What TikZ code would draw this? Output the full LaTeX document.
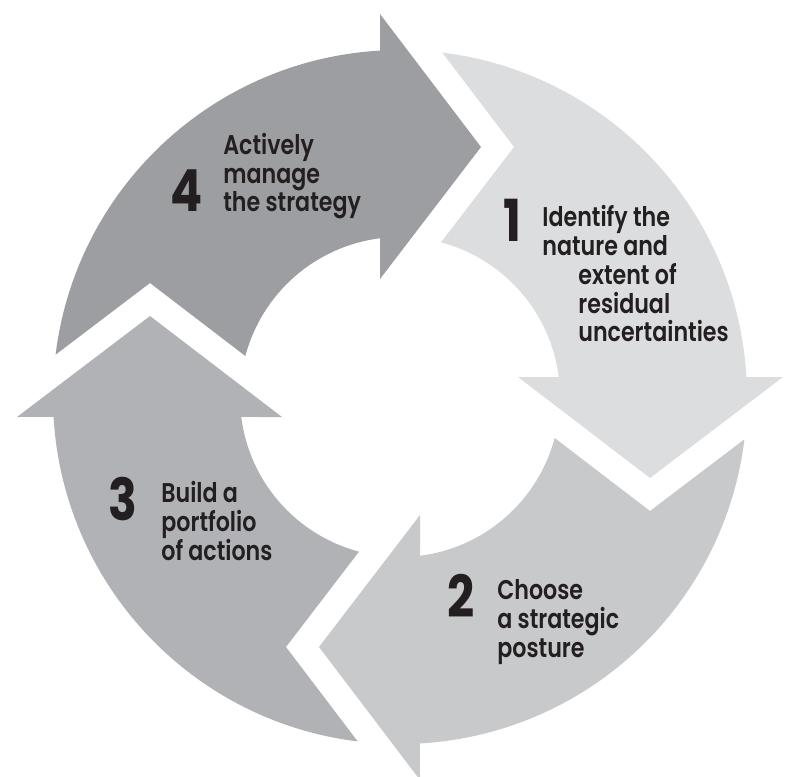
\documentclass[tikz,border=0pt]{standalone}
\usepackage{fontspec}
\setmainfont{Poppins}[UprightFont=* SemiBold, BoldFont=* Bold, FakeStretch=0.82]
\usetikzlibrary{positioning}
\definecolor{stepone}{HTML}{DCDDDF}
\definecolor{steptwo}{HTML}{C8C9CB}
\definecolor{stepthree}{HTML}{B1B2B5}
\definecolor{stepfour}{HTML}{9D9EA1}
\definecolor{inktxt}{HTML}{231F20}
\tikzset{
  lbl/.style={font=\fontsize{15.4}{16.5}\selectfont, text=inktxt, align=left, inner sep=0pt},
  num/.style={font=\fontsize{33}{33}\selectfont\bfseries, text=inktxt, inner sep=0pt},
}
% one curved arrow of the cycle, turned by #1
\newcommand{\cyclearrow}[2]{%
  \fill[#2, rotate=#1] (83.0:347) arc[start angle=83.0, end angle=3.3, radius=347]
    -- (383,20) -- (250,-81) -- (118,20) -- (7.18:160)
    arc[start angle=7.18, end angle=75.15, radius=160] -- (114,250) -- cycle;
}
\begin{document}
\begin{tikzpicture}[scale=0.02]
  \useasboundingbox (-400,-379) rectangle (385,397);
  \cyclearrow{0}{stepone}
  \cyclearrow{-90}{steptwo}
  \cyclearrow{-180}{stepthree}
  \cyclearrow{90}{stepfour}

  % labels sit on the baseline of their last line
  \node[lbl, anchor=base west] (txt1) at (142,55)
    {Identify the\\nature and\\\hspace*{0.72cm}extent of\\\hspace*{0.72cm}residual\\\hspace*{0.72cm}uncertainties};
  \node[num, anchor=base east] (num1) at (122,155) {1};

  \node[lbl, anchor=base west] (txt2) at (97,-260) {Choose\\a strategic\\posture};
  \node[num, anchor=base east] (num2) at (75,-220) {2};

  \node[lbl, anchor=base west] (txt3) at (-239,-163) {Build a\\portfolio\\of actions};
  \node[num, anchor=base east] (num3) at (-262,-123) {3};

  \node[lbl, anchor=base west] (txt4) at (-177,185) {Actively\\manage\\the strategy};
  \node[num, anchor=base east] (num4) at (-197,185) {4};
\end{tikzpicture}
\end{document}
